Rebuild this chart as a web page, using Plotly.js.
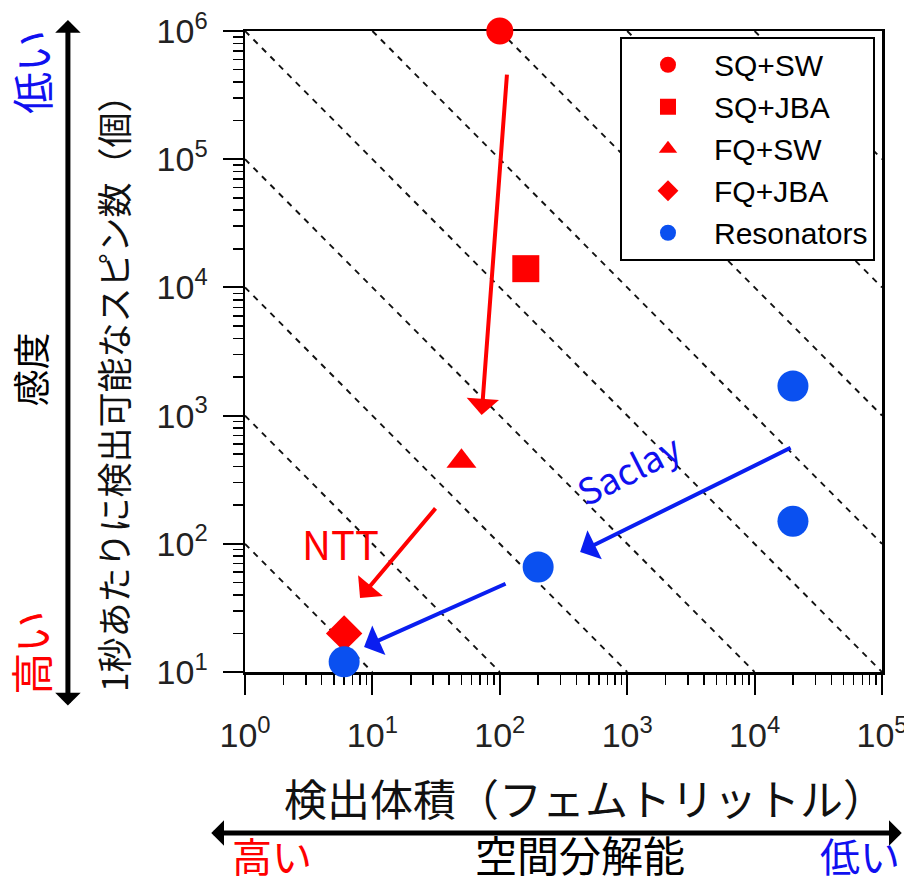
<!DOCTYPE html>
<html>
<head>
<meta charset="utf-8">
<script src="https://cdn.plot.ly/plotly-3.0.1.min.js"></script>
<style>html,body{margin:0;padding:0;background:#fff;}</style>
</head>
<body>
<div id="chart" style="width:904px;height:886px;"></div>
<script>
// ---- data ----
const seriesNames = ['SQ+SW', 'SQ+JBA', 'FQ+SW', 'FQ+JBA', 'Resonators'];
const sqswX = [100];      const sqswY = [1000000];
const sqjbaX = [160];     const sqjbaY = [14000];
const fqswX = [50];       const fqswY = [440];
const fqjbaX = [6];       const fqjbaY = [20];
const resX = [6, 200, 20000, 20000];
const resY = [12, 66, 1700, 150];

// iso-lines x*y = 10^n
const isoExponents = [2, 3, 4, 5, 6, 7, 8, 9, 10];

// tick labels
const majorTickVals = [1, 10, 100, 1000, 10000, 100000];
const xTickText = ['10<sup>0</sup>', '10<sup>1</sup>', '10<sup>2</sup>', '10<sup>3</sup>', '10<sup>4</sup>', '10<sup>5</sup>'];
const yTickVals = [10, 100, 1000, 10000, 100000, 1000000];
const yTickText = ['10<sup>1</sup>', '10<sup>2</sup>', '10<sup>3</sup>', '10<sup>4</sup>', '10<sup>5</sup>', '10<sup>6</sup>'];

// arrows [fromX, fromY, toX, toY] in data values
const redArrows = [[114, 470000, 72, 1010], [32, 194, 8.0, 37.8]];
const blueArrows = [[114, 49.4, 8.6, 15.7], [19700, 569, 427, 86.3]];

// texts
const xTitle = '検出体積（フェムトリットル）';
const yTitle = '1秒あたりに検出可能なスピン数（個）';

// ---- build ----
const RED = '#ff0000';
const BLUE = '#0a50f0';
const TXTBLUE = '#1010f0';
const latin = 'Arial, "Liberation Sans", "Noto Sans CJK JP", sans-serif';
const cjk = '"Noto Sans CJK JP", "Liberation Sans", sans-serif';

const traces = [];
isoExponents.forEach(n => {
  const x0 = Math.pow(10, Math.max(0, n - 6));
  const x1 = Math.pow(10, Math.min(5, n - 1));
  traces.push({
    x: [x0, x1], y: [Math.pow(10, n) / x0, Math.pow(10, n) / x1],
    mode: 'lines', showlegend: false, hoverinfo: 'skip',
    line: {color: '#111', width: 1.9, dash: '6px,6px'}
  });
});

const markerTraces = [
  {x: sqswX, y: sqswY, sym: 'circle', size: 27, color: RED},
  {x: sqjbaX, y: sqjbaY, sym: 'square', size: 27, color: RED},
  {x: fqswX, y: fqswY, sym: 'triangle-up', size: 26, color: RED},
  {x: fqjbaX, y: fqjbaY, sym: 'diamond', size: 28, color: RED},
  {x: resX, y: resY, sym: 'circle', size: 31, color: BLUE}
];
markerTraces.forEach((m, i) => {
  traces.push({
    x: m.x, y: m.y, name: seriesNames[i], mode: 'markers', cliponaxis: false,
    marker: {symbol: m.sym, size: m.size, color: m.color, line: {width: 0}}
  });
});

const L = Math.log10;
const annotations = [];
function arrow(a, color) {
  annotations.push({
    x: L(a[2]), y: L(a[3]), ax: L(a[0]), ay: L(a[1]),
    xref: 'x', yref: 'y', axref: 'x', ayref: 'y',
    text: '', showarrow: true, arrowhead: 1, arrowsize: 1.35, arrowwidth: 4,
    arrowcolor: color, standoff: 0
  });
}
redArrows.forEach(a => arrow(a, RED));
blueArrows.forEach(a => arrow(a, '#0a1ef0'));

annotations.push({x: L(5.6), y: L(101), xref: 'x', yref: 'y', text: 'NTT', showarrow: false,
  xanchor: 'center', yanchor: 'middle', font: {family: cjk, size: 40, color: RED}});
annotations.push({x: L(1010), y: L(390), xref: 'x', yref: 'y', text: 'Saclay', showarrow: false,
  xanchor: 'center', yanchor: 'middle', textangle: -27, font: {family: cjk, size: 36, color: TXTBLUE}});

// outer big arrows (paper coords)
annotations.push({x: -0.278, y: 1.017, xref: 'paper', yref: 'paper', ax: 0, ay: 687,
  axref: 'pixel', ayref: 'pixel', text: '', showarrow: true, arrowhead: 1, arrowside: 'end+start',
  arrowsize: 0.85, arrowwidth: 5, arrowcolor: '#000', standoff: 0, startstandoff: 0});
annotations.push({x: 1.031, y: -0.2512, xref: 'paper', yref: 'paper', ax: -692, ay: 0,
  axref: 'pixel', ayref: 'pixel', text: '', showarrow: true, arrowhead: 1, arrowside: 'end+start',
  arrowsize: 0.85, arrowwidth: 5, arrowcolor: '#000', standoff: 0, startstandoff: 0});

function label(x, y, text, size, color, angle, yanchor) {
  annotations.push({x: x, y: y, xref: 'paper', yref: 'paper', text: text, showarrow: false,
    xanchor: 'center', yanchor: yanchor || 'middle', textangle: angle || 0,
    font: {family: cjk, size: size, color: color}});
}
// axis titles
label(-0.2088, 0.4477, yTitle, 35, '#111', -90);
label(0.534, -0.195, xTitle, 43, '#111', 0);
// side labels
label(-0.3375, 0.936, '低い', 42, TXTBLUE, -90);
label(-0.3375, 0.472, '感度', 37, '#000', -90);
label(-0.3375, 0.030, '高い', 42, RED, -90);
label(0.0424, -0.3339, '高い', 40, RED, 0, 'bottom');
label(0.526, -0.3339, '空間分解能', 42, '#000', 0, 'bottom');
label(0.9655, -0.3339, '低い', 40, TXTBLUE, 0, 'bottom');

const minorVals = [];
for (let d = 0; d < 6; d++) for (let m = 2; m <= 9; m++) minorVals.push(m * Math.pow(10, d));

const axisCommon = {
  type: 'log', showgrid: false, zeroline: false,
  showline: true, linecolor: '#000', linewidth: 2.5, mirror: true,
  ticks: 'outside', ticklen: 20, tickwidth: 2, tickcolor: '#000',
  tickmode: 'array', layer: 'below traces', ticklabeloverflow: 'allow',
  tickfont: {family: latin, size: 34, color: '#222'},
  minor: {tickmode: 'array', tickvals: minorVals, ticks: 'outside', ticklen: 10, tickwidth: 1.5, tickcolor: '#000', showgrid: false}
};

const layout = {
  width: 904, height: 886,
  margin: {l: 245, r: 22, t: 31, b: 214},
  paper_bgcolor: '#fff', plot_bgcolor: '#fff',
  font: {family: latin, color: '#000'},
  xaxis: Object.assign({}, axisCommon, {
    range: [0, 5], tickvals: majorTickVals, ticktext: xTickText, ticklabelstandoff: 12
  }),
  yaxis: Object.assign({}, axisCommon, {
    range: [1, 6], tickvals: yTickVals, ticktext: yTickText, ticklabelstandoff: 8
  }),
  showlegend: true,
  legend: {
    x: 0.989, y: 0.991, xanchor: 'right', yanchor: 'top',
    bgcolor: '#fff', bordercolor: '#000', borderwidth: 2,
    font: {family: latin, size: 30, color: '#000'}, itemsizing: 'trace',
    itemwidth: 82, tracegroupgap: 0
  },
  annotations: annotations
};

Plotly.newPlot('chart', traces, layout, {displayModeBar: false, staticPlot: true});
</script>
</body>
</html>
